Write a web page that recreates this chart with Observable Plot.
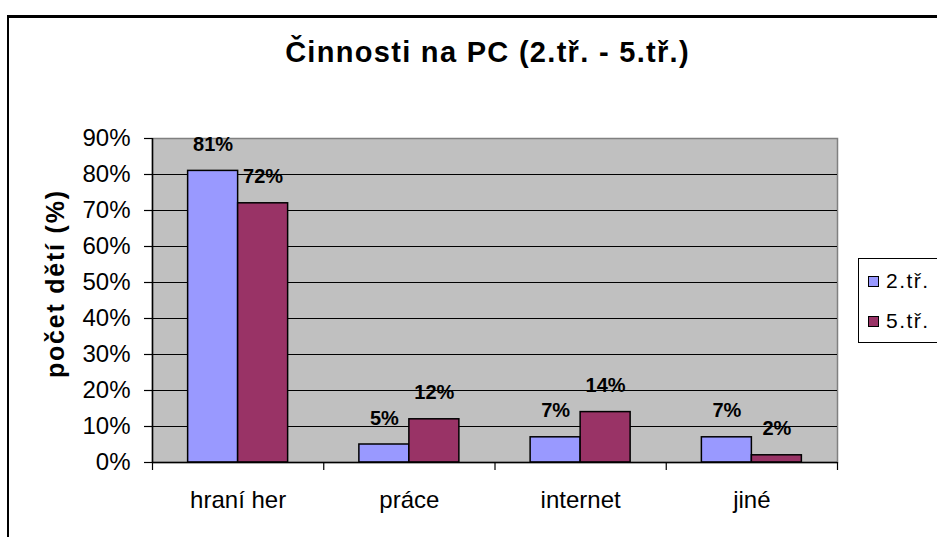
<!DOCTYPE html>
<html>
<head>
<meta charset="utf-8">
<script src="https://cdn.jsdelivr.net/npm/d3@7"></script>
<script src="https://cdn.jsdelivr.net/npm/@observablehq/plot@0.6"></script>
<style>
  html, body { margin: 0; padding: 0; background: #fff; overflow: hidden; }
  #wrap { position: relative; width: 937px; height: 537px; overflow: hidden; font-family: "Liberation Sans", Arial, sans-serif; }
  #border { position: absolute; left: 7px; top: 15px; width: 1000px; height: 600px; border-left: 2px solid #000; border-top: 3px solid #000; }
  #title { position: absolute; left: 0; width: 975px; top: 38px; text-align: center; font-weight: bold; font-size: 29px; line-height: 29px; letter-spacing: 1.3px; color: #000; white-space: nowrap; }
  #chart { position: absolute; left: 0; top: 0; }
  #legend { position: absolute; left: 858px; top: 258px; width: 100px; height: 83px; border: 1px solid #000; background: #fff; }
  .item { position: absolute; left: 9px; font-size: 21px; line-height: 20px; letter-spacing: 1.5px; display: flex; align-items: center; white-space: nowrap; }
  .sw { width: 9px; height: 9px; border: 1px solid #000; margin-right: 7px; }
</style>
</head>
<body>
<div id="wrap">
  <div id="border"></div>
  <div id="title"></div>
  <div id="chart"></div>
  <div id="legend"></div>
</div>
<script>
const title = "Činnosti na PC (2.tř. - 5.tř.)";
const yLabel = "počet dětí (%)";
const categories = ["hraní her", "práce", "internet", "jiné"];
const seriesNames = ["2.tř.", "5.tř."];
const values2 = [81, 5, 7, 7];
const values5 = [72, 12, 14, 2];
const colors = ["#9999FF", "#993366"];
const yTicks = [0, 10, 20, 30, 40, 50, 60, 70, 80, 90];

document.getElementById("title").textContent = title;

const groupFrac = 100 / 171.25; // share of category slot occupied by the bar pair
const rows = [];
[values2, values5].forEach((vals, s) => {
  vals.forEach((v, i) => {
    const start = i + 0.5 - groupFrac / 2 + s * groupFrac / 2;
    rows.push({cat: categories[i], series: seriesNames[s], value: v, x1: start, x2: start + groupFrac / 2, xm: start + groupFrac / 4});
  });
});

const font = '"Liberation Sans", Arial, sans-serif';
const chart = Plot.plot({
  width: 937,
  height: 537,
  marginLeft: 152,
  marginRight: 100,
  marginTop: 138,
  marginBottom: 75,
  style: {fontFamily: font, background: "transparent", overflow: "visible"},
  x: {domain: [0, categories.length], axis: null},
  y: {domain: [0, 90], axis: null},
  color: {domain: seriesNames, range: colors},
  marks: [
    Plot.frame({fill: "#C0C0C0", stroke: "#808080", strokeWidth: 1.5}),
    Plot.ruleY(yTicks.filter(t => t > 0 && t < 90), {stroke: "#000", strokeWidth: 1}),
    Plot.rectY(rows, {x1: "x1", x2: "x2", y: "value", fill: "series", stroke: "#000", strokeWidth: 1.5}),
    Plot.ruleX([0], {stroke: "#000", strokeWidth: 1.5}),
    Plot.ruleY([0], {stroke: "#000", strokeWidth: 1.5}),
    Plot.axisY({ticks: yTicks, tickSize: 8, tickPadding: 14, tickFormat: d => d + "%", fontSize: 24, stroke: "#000", strokeWidth: 1.2, fill: "#000", label: null}),
    Plot.axisX({ticks: d3.range(categories.length + 1), tickSize: 8, tickFormat: () => "", stroke: "#000", strokeWidth: 1.2, label: null}),
    Plot.axisX({ticks: categories.map((c, i) => i + 0.5), tickSize: 0, tickPadding: 28, tickFormat: d => categories[Math.floor(d)], fontSize: 24, fill: "#000", label: null}),
    Plot.text(rows, {x: "xm", y: "value", text: d => d.value + "%", lineAnchor: "bottom", dy: -20, fontSize: 20, fontWeight: "bold", fill: "#000"}),
    Plot.text([yLabel], {frameAnchor: "left", textAnchor: "middle", lineAnchor: "middle", dx: -97, dy: -16, rotate: -90, text: d => d, fontSize: 25, fontWeight: "bold", fill: "#000"})
  ]
});
document.getElementById("chart").appendChild(chart);
d3.select(chart).selectAll("text")
  .filter(function() { return this.textContent === yLabel; })
  .attr("textLength", 187).attr("lengthAdjust", "spacing");

const legend = document.getElementById("legend");
seriesNames.forEach((name, i) => {
  const it = document.createElement("div");
  it.className = "item";
  it.style.top = (12 + i * 40) + "px";
  const sw = document.createElement("span");
  sw.className = "sw";
  sw.style.background = colors[i];
  it.appendChild(sw);
  it.appendChild(document.createTextNode(name));
  legend.appendChild(it);
});
</script>
</body>
</html>
